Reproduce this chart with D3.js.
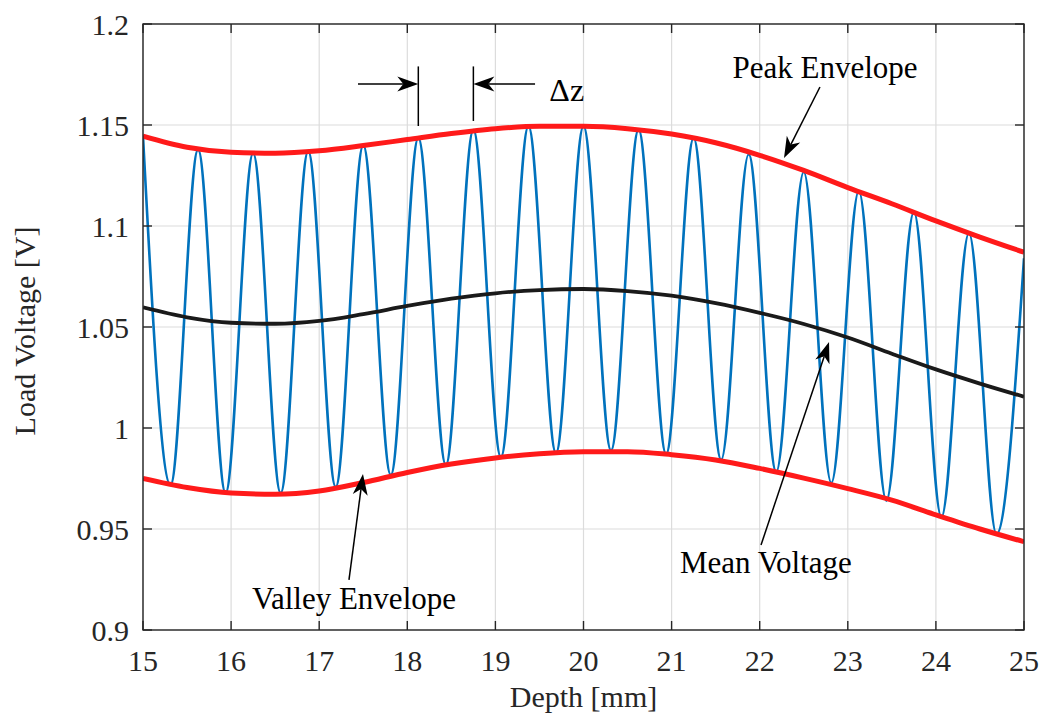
<!DOCTYPE html>
<html><head><meta charset="utf-8">
<script src="https://cdn.jsdelivr.net/npm/d3@7"></script>
<style>body{margin:0;background:#fff}svg{display:block}text{font-family:"Liberation Serif","Times New Roman",serif;fill:#262626}</style>
</head><body>
<svg id="c" width="1041" height="721"></svg>
<script>
// ---- data ----
const xTicks = [15,16,17,18,19,20,21,22,23,24,25];
const yTicks = [0.9,0.95,1,1.05,1.1,1.15,1.2];
const yTickLabels = ["0.9","0.95","1","1.05","1.1","1.15","1.2"];

const peakDepth = [15,15.625,16.25,16.875,17.5,18.125,18.75,19.375,20,20.625,21.25,21.875,22.5,23.125,23.75,24.375,25];
const peakVoltage = [1.1445,1.1378,1.1360,1.1370,1.1400,1.1436,1.1475,1.1494,1.1494,1.1477,1.1435,1.1355,1.1267,1.1173,1.1070,1.0965,1.0840];
const valleyDepth = [15.3125,15.9375,16.5625,17.1875,17.8125,18.4375,19.0625,19.6875,20.3125,20.9375,21.5625,22.1875,22.8125,23.4375,24.0625,24.6875];
const valleyVoltage = [0.9718,0.9678,0.9678,0.9708,0.9767,0.9817,0.9856,0.9876,0.9889,0.9871,0.9842,0.9782,0.9728,0.9640,0.9558,0.9475];

const envDepth = [15,15.5,16,16.5,17,17.5,18,18.5,19,19.5,20,20.5,21,21.5,22,22.5,23,23.5,24,24.5,25];
const peakEnvelope = [1.1445,1.1390,1.1365,1.1360,1.1372,1.1398,1.1428,1.1458,1.1482,1.1494,1.1494,1.1482,1.1455,1.1412,1.1350,1.1275,1.1190,1.1110,1.1025,1.0945,1.0870];
const valleyEnvelope = [0.9750,0.9705,0.9678,0.9672,0.9688,0.9730,0.9780,0.9822,0.9852,0.9872,0.9882,0.9883,0.9868,0.9842,0.9800,0.9752,0.9700,0.9643,0.9570,0.9500,0.9437];
const meanVoltage = [1.0597,1.0548,1.0521,1.0516,1.0530,1.0564,1.0604,1.0640,1.0667,1.0683,1.0688,1.0678,1.0655,1.0618,1.0570,1.0515,1.0448,1.0368,1.0290,1.0220,1.0155];

// annotations (data coordinates)
const labels = [
  {text:"Peak Envelope", z:22.741, v:1.1733, from:[22.684,1.1688], to:[22.276,1.1337]},
  {text:"Mean Voltage", z:22.07, v:0.9282, from:[22.015,0.9421], to:[22.787,1.0426]},
  {text:"Valley Envelope", z:17.395, v:0.9104, from:[17.338,0.9248], to:[17.497,0.9772]}
];

// ---- layout ----
const L=143, T=24, R=1024, B=630;
const svg = d3.select("#c");
const x = d3.scaleLinear().domain([15,25]).range([L,R]);
const y = d3.scaleLinear().domain([0.9,1.2]).range([B,T]);

// grid
const g = svg.append("g");
g.selectAll(".gx").data(xTicks).join("line")
 .attr("x1",d=>x(d)).attr("x2",d=>x(d)).attr("y1",T).attr("y2",B)
 .attr("stroke","#dcdcdc").attr("stroke-width",1.2);
g.selectAll(".gy").data(yTicks).join("line")
 .attr("y1",d=>y(d)).attr("y2",d=>y(d)).attr("x1",L).attr("x2",R)
 .attr("stroke","#dcdcdc").attr("stroke-width",1.2);

// clip
svg.append("clipPath").attr("id","clip").append("rect").attr("x",L).attr("y",T).attr("width",R-L).attr("height",B-T);
const plot = svg.append("g").attr("clip-path","url(#clip)");

// blue oscillation through extrema
const osc = peakDepth.map((z,i)=>[z,peakVoltage[i]]).concat(valleyDepth.map((z,i)=>[z,valleyVoltage[i]])).sort((a,b)=>a[0]-b[0]);
plot.append("path").datum(osc)
 .attr("d", d3.line().x(d=>x(d[0])).y(d=>y(d[1])).curve(d3.curveMonotoneX))
 .attr("fill","none").attr("stroke","#0072BD").attr("stroke-width",2.6);

const envLine = arr => d3.line().x((d,i)=>x(envDepth[i])).y(d=>y(d)).curve(d3.curveMonotoneX)(arr);
plot.append("path").attr("d",envLine(meanVoltage)).attr("fill","none").attr("stroke","#1a1a1a").attr("stroke-width",3.8);
plot.append("path").attr("d",envLine(peakEnvelope)).attr("fill","none").attr("stroke","#ff1a1a").attr("stroke-width",5);
plot.append("path").attr("d",envLine(valleyEnvelope)).attr("fill","none").attr("stroke","#ff1a1a").attr("stroke-width",5);

// axes box
const ax = svg.append("g");
ax.append("rect").attr("x",L).attr("y",T).attr("width",R-L).attr("height",B-T)
 .attr("fill","none").attr("stroke","#262626").attr("stroke-width",1.4);
const tl = 9;
const FF = "Liberation Serif, Times New Roman, serif";
xTicks.forEach(d=>{
  ax.append("line").attr("x1",x(d)).attr("x2",x(d)).attr("y1",B).attr("y2",B-tl).attr("stroke","#262626").attr("stroke-width",1.4);
  ax.append("line").attr("x1",x(d)).attr("x2",x(d)).attr("y1",T).attr("y2",T+tl).attr("stroke","#262626").attr("stroke-width",1.4);
  ax.append("text").attr("x",x(d)).attr("y",B+41).attr("text-anchor","middle").attr("font-family",FF).attr("font-size",30).text(d);
});
yTicks.forEach((d,i)=>{
  ax.append("line").attr("y1",y(d)).attr("y2",y(d)).attr("x1",L).attr("x2",L+tl).attr("stroke","#262626").attr("stroke-width",1.4);
  ax.append("line").attr("y1",y(d)).attr("y2",y(d)).attr("x1",R).attr("x2",R-tl).attr("stroke","#262626").attr("stroke-width",1.4);
  ax.append("text").attr("x",L-14).attr("y",y(d)+11).attr("text-anchor","end").attr("font-family",FF).attr("font-size",30).text(yTickLabels[i]);
});
svg.append("text").attr("x",(L+R)/2).attr("y",707).attr("text-anchor","middle").attr("font-family",FF).attr("font-size",30).text("Depth [mm]");
svg.append("text").attr("transform",`translate(35,${(T+B)/2+4}) rotate(-90)`).attr("text-anchor","middle").attr("font-family",FF).attr("font-size",30).text("Load Voltage [V]");

// arrow helper
function arrow(x1,y1,x2,y2){
  const a = svg.append("g");
  const ang = Math.atan2(y2-y1,x2-x1);
  const len=21, w=7.5, notch=15;
  const bx = x2-len*Math.cos(ang), by = y2-len*Math.sin(ang);
  const nx = x2-notch*Math.cos(ang), ny = y2-notch*Math.sin(ang);
  const px = -Math.sin(ang), py = Math.cos(ang);
  a.append("line").attr("x1",x1).attr("y1",y1).attr("x2",nx).attr("y2",ny).attr("stroke","#000").attr("stroke-width",1.5);
  a.append("path").attr("d",`M${x2},${y2}L${bx+px*w},${by+py*w}L${nx},${ny}L${bx-px*w},${by-py*w}Z`).attr("fill","#000");
}
labels.forEach(l=>{
  svg.append("text").attr("x",x(l.z)).attr("y",y(l.v)).attr("text-anchor","middle").attr("font-family",FF).attr("font-size",31).style("fill","#000").text(l.text);
  arrow(x(l.from[0]),y(l.from[1]),x(l.to[0]),y(l.to[1]));
});

// delta z annotation
const dz = {left:18.125, right:18.75, vTop:1.1790, vBotL:1.1495, vBotR:1.1520, vArrow:1.1703, startL:17.44, startR:19.45, textZ:19.81, textV:1.1619};
svg.append("line").attr("x1",x(dz.left)).attr("x2",x(dz.left)).attr("y1",y(dz.vTop)).attr("y2",y(dz.vBotL)).attr("stroke","#000").attr("stroke-width",1.5);
svg.append("line").attr("x1",x(dz.right)).attr("x2",x(dz.right)).attr("y1",y(dz.vTop)).attr("y2",y(dz.vBotR)).attr("stroke","#000").attr("stroke-width",1.5);
arrow(x(dz.startL),y(dz.vArrow),x(dz.left),y(dz.vArrow));
arrow(x(dz.startR),y(dz.vArrow),x(dz.right),y(dz.vArrow));
svg.append("text").attr("x",x(dz.textZ)).attr("y",y(dz.textV)).attr("text-anchor","middle").attr("font-family",FF).attr("font-size",32).style("fill","#000").text("Δz");
</script>
</body></html>
